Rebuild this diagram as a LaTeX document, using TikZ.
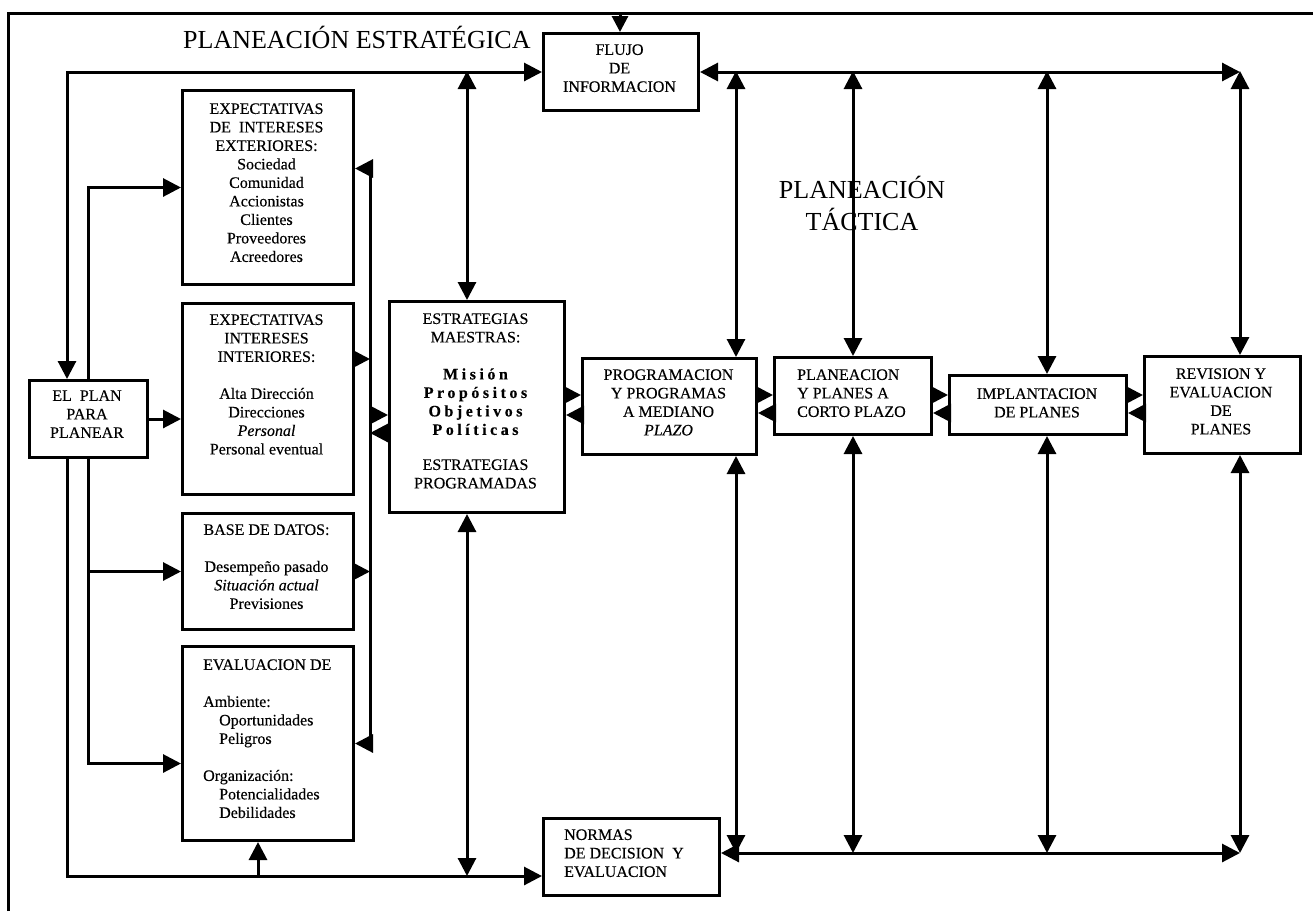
\documentclass[tikz,border=0pt]{standalone}
\usepackage{fontspec}
\setmainfont{Liberation Serif}
\usetikzlibrary{arrows.meta,calc}
\begin{document}
\begin{tikzpicture}[x=1pt,y=-1pt,
  box/.style={draw, line width=3pt, fill=white, inner sep=0pt, anchor=north west},
  txt/.style={font=\fontsize{16}{18.5}\selectfont\addfontfeature{FakeBold=0.3}, inner sep=0pt, align=center, anchor=north, execute at begin node={\rule{0pt}{12.95pt}}},
  txtl/.style={txt, align=left, anchor=north west},
  bigtxt/.style={font=\fontsize{26}{32}\selectfont, inner sep=0pt},
  conn/.style={line width=3pt},
  arr/.style={conn, -{Triangle[length=18pt,width=18pt]}},
  dbl/.style={conn, {Triangle[length=18pt,width=18pt]}-{Triangle[length=18pt,width=18pt]}},
  frame/.style={line width=3pt}]
\useasboundingbox (0,0) rectangle (1314,911);

% frame
\coordinate (FBL) at (8,911);
\coordinate (FTL) at (8,13);
\coordinate (FTR) at (1313,13);
\draw[frame] (FBL) -- (FTL) -- (FTR);

% boxes
\node[box, minimum width=171pt, minimum height=194pt] (ext) at (181,89) {};
\node[box, minimum width=171pt, minimum height=191pt] (int) at (181,302) {};
\node[box, minimum width=171pt, minimum height=116pt] (base) at (181,512) {};
\node[box, minimum width=171pt, minimum height=194pt] (evalua) at (181,645) {};
\node[box, minimum width=118pt, minimum height=77pt] (plan) at (28,379) {};
\node[box, minimum width=155pt, minimum height=77pt] (flujo) at (542,32) {};
\node[box, minimum width=175pt, minimum height=211pt] (estr) at (388,300) {};
\node[box, minimum width=174pt, minimum height=96pt] (prog) at (581,357) {};
\node[box, minimum width=157pt, minimum height=77pt] (corto) at (773,356) {};
\node[box, minimum width=177pt, minimum height=59pt] (impl) at (948,374) {};
\node[box, minimum width=156pt, minimum height=97pt] (rev) at (1143,355) {};
\node[box, minimum width=176pt, minimum height=77pt] (normas) at (542,817) {};

% texts
\node[txt] (ext-t) at (266.5,103.1) {EXPECTATIVAS\\DE~~INTERESES\\EXTERIORES:\\Sociedad\\Comunidad\\Accionistas\\Clientes\\Proveedores\\Acreedores};
\node[txt] (int-t) at (266.5,314.1) {EXPECTATIVAS\\INTERESES\\INTERIORES:\\[18.5pt]Alta Dirección\\Direcciones\\\textit{Personal}\\Personal eventual};
\node[txt] (base-t) at (266.5,524.1) {BASE DE DATOS:\\[18.5pt]Desempeño pasado\\\textit{Situación actual}\\Previsiones};
\node[txtl] (evalua-t) at (203,659.1) {EVALUACION DE\\[18.5pt]Ambiente:\\\hspace*{16pt}Oportunidades\\\hspace*{16pt}Peligros\\[18.5pt]Organización:\\\hspace*{16pt}Potencialidades\\\hspace*{16pt}Debilidades};
\node[txt] (plan-t) at (87,390.1) {EL~~PLAN\\PARA\\PLANEAR};
\node[txt] (flujo-t) at (619.5,44.1) {FLUJO\\DE\\INFORMACION};
\node[txt] (estr-t) at (475.5,313.1) {ESTRATEGIAS\\MAESTRAS:\\[18.5pt]{\bfseries\addfontfeature{LetterSpace=22}Misión}\\{\bfseries\addfontfeature{LetterSpace=22}Propósitos}\\{\bfseries\addfontfeature{LetterSpace=22}Objetivos}\\{\bfseries\addfontfeature{LetterSpace=22}Políticas}\\[16.5pt]ESTRATEGIAS\\PROGRAMADAS};
\node[txt] (prog-t) at (668.5,369.1) {PROGRAMACION\\Y PROGRAMAS\\A MEDIANO\\\textit{PLAZO}};
\node[txtl] (corto-t) at (797,369.1) {PLANEACION\\Y PLANES A\\CORTO PLAZO};
\node[txt] (impl-t) at (1037,388.1) {IMPLANTACION\\DE PLANES};
\node[txt] (rev-t) at (1221,368.1) {REVISION Y\\EVALUACION\\DE\\PLANES};
\node[txtl] (normas-t) at (564,829.1) {NORMAS\\DE DECISION~~Y\\EVALUACION};

% helper coordinates
\coordinate (L1) at (67,0);
\coordinate (R1) at (370,0);
\coordinate (BL) at (0,876);
\coordinate (E1) at (258,876);
\coordinate (S1) at (467,71);
\coordinate (S2) at (467,876);
\coordinate (T1) at (736,71);
\coordinate (T2) at (853,71);
\coordinate (T3) at (1047,71);
\coordinate (T4) at (1240,71);
\coordinate (B1) at (736,853);
\coordinate (B2) at (853,853);
\coordinate (B3) at (1047,853);
\coordinate (B4) at (1240,853);
\coordinate (Y395) at (0,395);
\coordinate (Y413) at (0,413);
\coordinate (Y415) at (0,415);
\coordinate (Y433) at (0,433);
\coordinate (ext-a) at ($(ext.east)+(0,-19)$);
\coordinate (int-a) at ($(int.east)+(0,-40)$);
\coordinate (ev-a) at ($(evalua.west)+(0,20)$);

% top arrow into FLUJO
\coordinate (ftop) at (620,13);
\draw[conn, -{Triangle[length=16pt,width=16pt]}] (ftop) -- (ftop |- flujo.north);

% left loop
\draw[dbl] (plan.north -| L1) |- (flujo.west);
\draw[arr] (plan.south -| L1) |- (normas.west |- BL);
\draw[arr] (E1) -- (E1 |- evalua.south);
\draw[arr] (plan.north) |- (ext.west);
\draw[arr] (plan.south) |- (ev-a);
\draw[arr] (plan.south |- base.west) -- (base.west);
\draw[arr] (plan.east) -- (plan.east -| int.west);

% right collecting line of the left column
\draw[dbl] (ext-a) -| (R1 |- evalua.east) -- (evalua.east);
\draw[arr] (int-a) -- (int-a -| R1);
\draw[arr] (base.east) -- (base.east -| R1);
\draw[arr] (R1 |- Y415) -- (estr.west |- Y415);
\draw[arr] (estr.west |- Y433) -- (R1 |- Y433);

% strategy verticals
\draw[dbl] (S1) -- (S1 |- estr.north);
\draw[dbl] (S1 |- estr.south) -- (S2);

% pairs along the chain
\draw[arr] (estr.east |- Y395) -- (prog.west |- Y395);
\draw[arr] (prog.west |- Y415) -- (estr.east |- Y415);
\draw[arr] (prog.east |- Y395) -- (corto.west |- Y395);
\draw[arr] (corto.west |- Y413) -- (prog.east |- Y413);
\draw[arr] (corto.east |- Y395) -- (impl.west |- Y395);
\draw[arr] (impl.west |- Y413) -- (corto.east |- Y413);
\draw[arr] (impl.east |- Y395) -- (rev.west |- Y395);
\draw[arr] (rev.west |- Y413) -- (impl.east |- Y413);

% top information bus
\draw[dbl] (flujo.east) -- (flujo.east -| T4);
\draw[dbl] (T1) -- (T1 |- prog.north);
\draw[dbl] (T2) -- (T2 |- corto.north);
\draw[dbl] (T3) -- (T3 |- impl.north);
\draw[dbl] (T4) -- (T4 |- rev.north);

% bottom decision bus
\draw[dbl] (normas.east |- B1) -- (B4);
\draw[dbl] (prog.south -| B1) -- (B1);
\draw[dbl] (corto.south -| B2) -- (B2);
\draw[dbl] (impl.south -| B3) -- (B3);
\draw[dbl] (rev.south -| B4) -- (B4);

% titles
\node[bigtxt, anchor=base west] (estrat) at (183,48) {PLANEACIÓN ESTRATÉGICA};
\node[bigtxt, align=center, anchor=north] (tact) at (862,175.6) {\rule{0pt}{22.4pt}PLANEACIÓN\\TÁCTICA};
\end{tikzpicture}
\end{document}
